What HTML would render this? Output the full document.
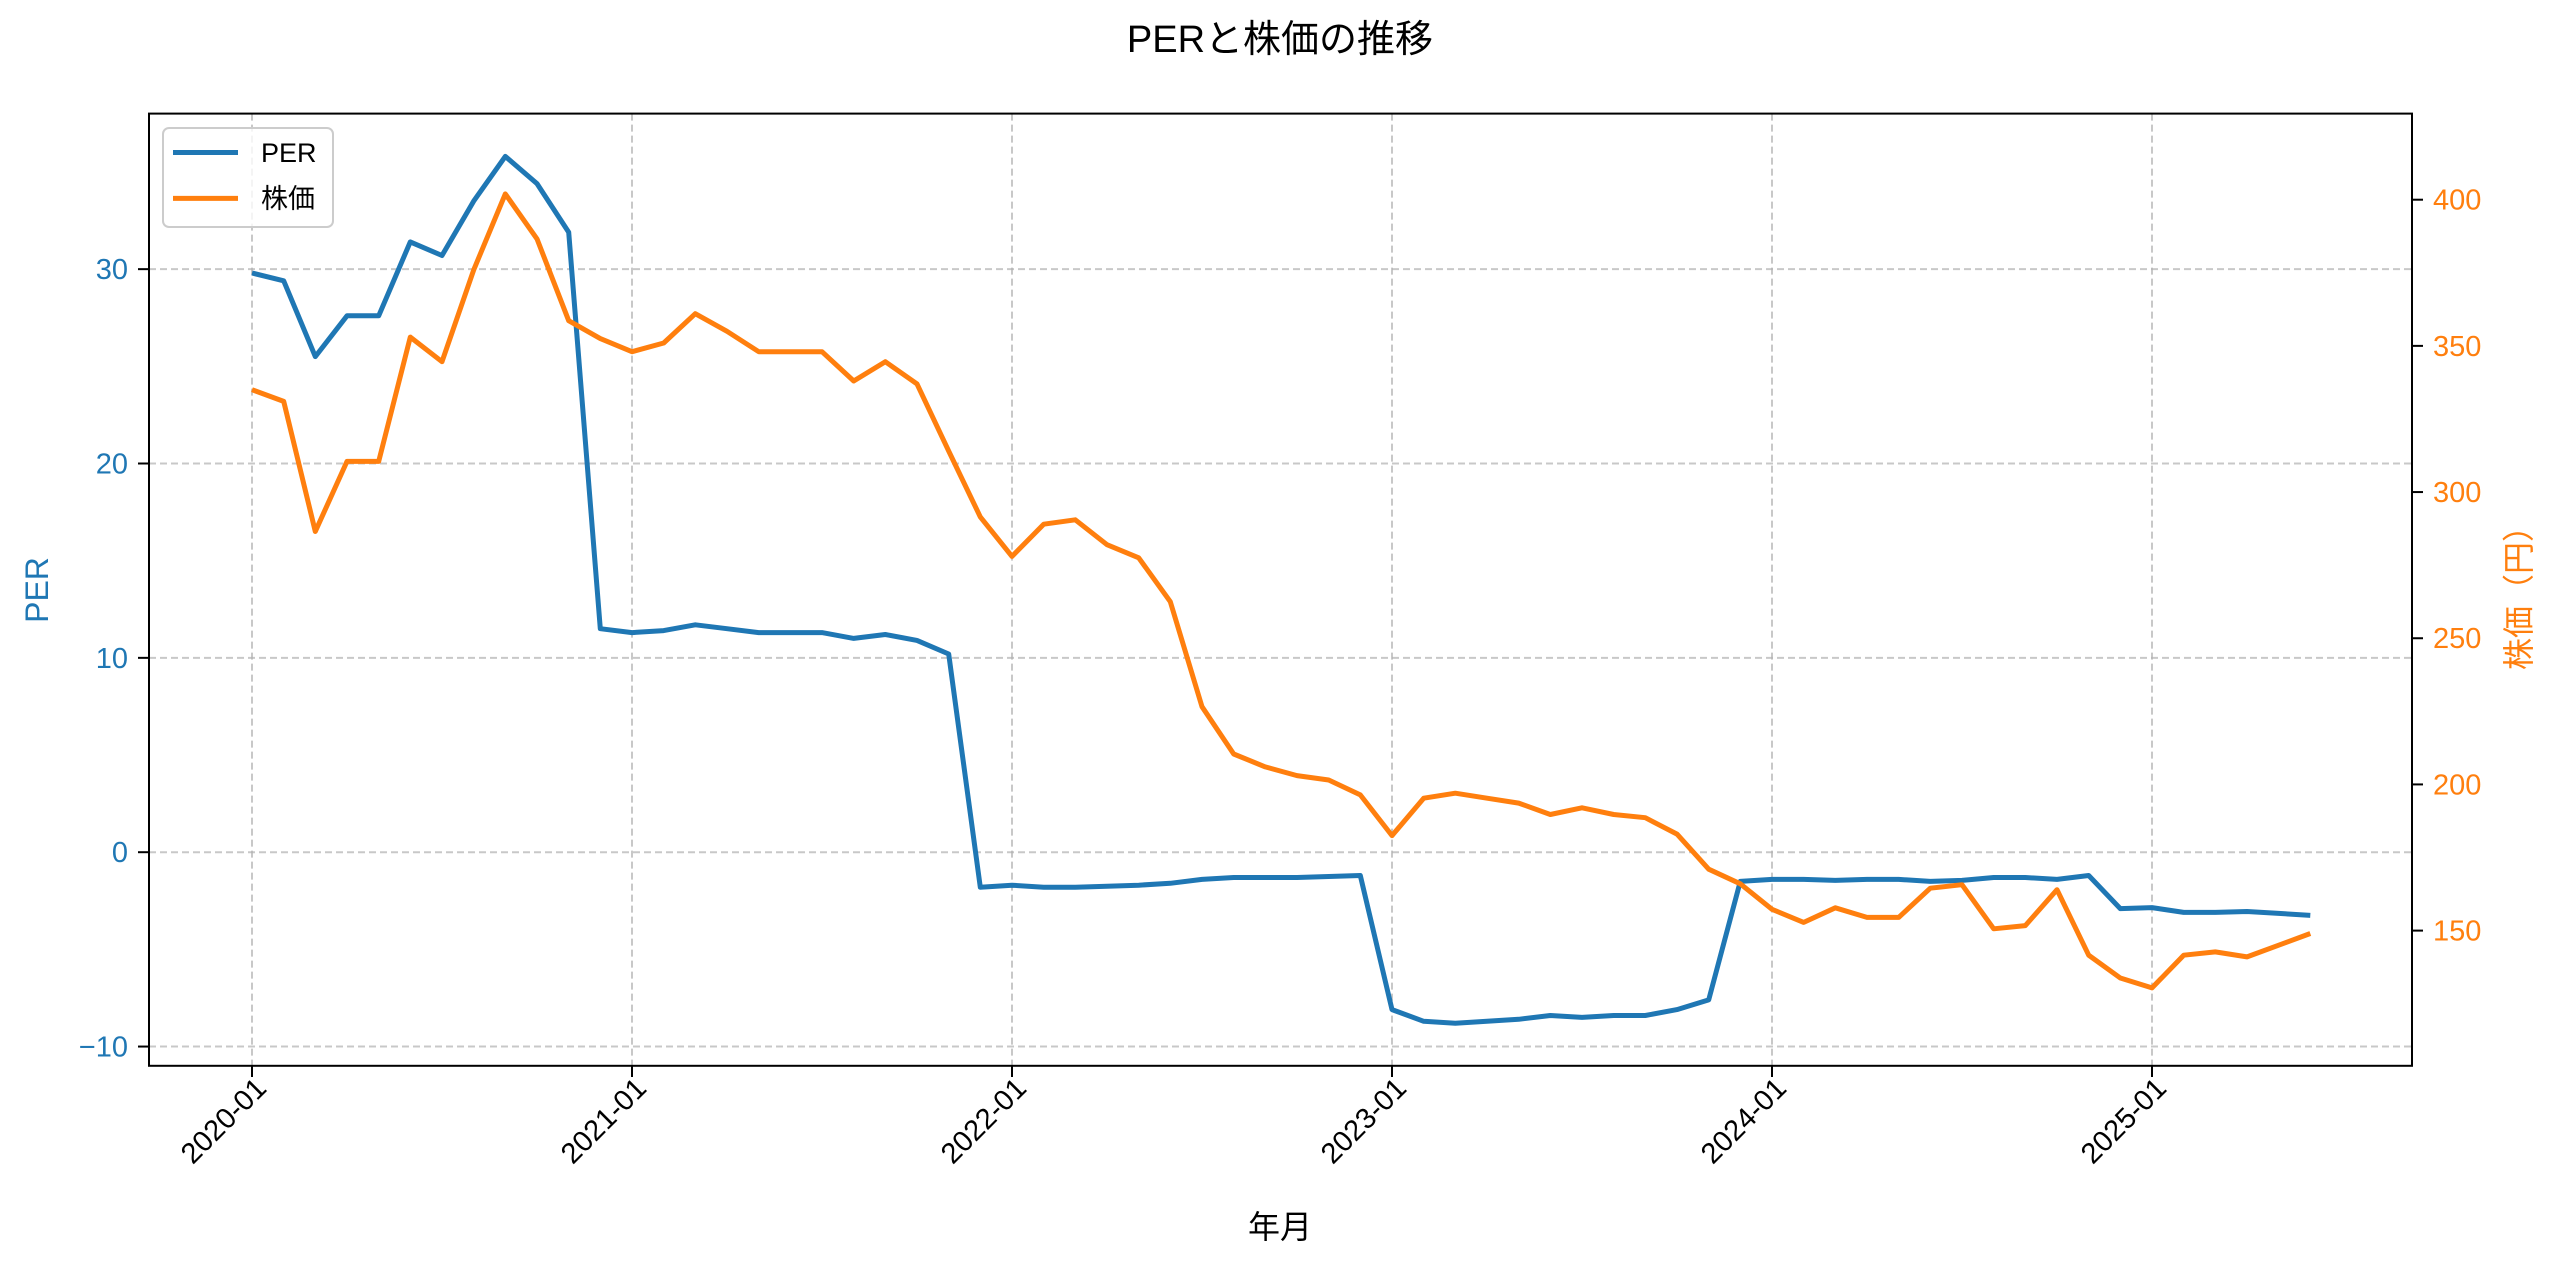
<!DOCTYPE html>
<html><head><meta charset="utf-8"><style>
html,body{margin:0;padding:0;background:#fff}
svg{display:block}
text{font-family:"Liberation Sans","Noto Sans CJK JP",sans-serif}
</style></head><body>
<svg id="chart" width="2560" height="1269" viewBox="0 0 2560 1269" xmlns="http://www.w3.org/2000/svg">
<text x="1280" y="52" font-size="38" text-anchor="middle" fill="#000">PERと株価の推移</text>
<g id="grid"></g>
<g id="series"></g>
<rect x="149" y="113.6" width="2263" height="952.2" fill="none" stroke="#000" stroke-width="2"/>
<g id="axes"></g>
<text x="1280" y="1238" font-size="32" text-anchor="middle" fill="#000">年月</text>
<text transform="translate(48,590) rotate(-90)" font-size="32" text-anchor="middle" fill="#1f77b4">PER</text>
<text transform="translate(2530,590) rotate(-90)" font-size="32" text-anchor="middle" fill="#ff7f0e">株価（円）</text>
<g>
<rect x="163" y="128" width="170" height="99" rx="6" fill="#fff" fill-opacity="0.8" stroke="#ccc" stroke-width="2"/>
<line x1="173" y1="152.5" x2="238" y2="152.5" stroke="#1f77b4" stroke-width="5"/>
<text x="261" y="162" font-size="27" fill="#000">PER</text>
<line x1="173" y1="198.4" x2="238" y2="198.4" stroke="#ff7f0e" stroke-width="5"/>
<text x="261" y="208" font-size="27" fill="#000">株価</text>
</g>
</svg>
<script>
const startYear = 2020;
const perValues = [29.8,29.4,25.5,27.6,27.6,31.4,30.7,33.5,35.8,34.4,31.9,11.5,
11.3,11.4,11.7,11.5,11.3,11.3,11.3,11.0,11.2,10.9,10.2,-1.8,
-1.7,-1.8,-1.8,-1.75,-1.7,-1.6,-1.4,-1.3,-1.3,-1.3,-1.25,-1.2,
-8.1,-8.7,-8.8,-8.7,-8.6,-8.4,-8.5,-8.4,-8.4,-8.1,-7.6,-1.5,
-1.4,-1.4,-1.45,-1.4,-1.4,-1.5,-1.45,-1.3,-1.3,-1.4,-1.2,-2.9,
-2.85,-3.1,-3.1,-3.05,-3.15,-3.25];
const priceValues = [335,331,286.5,310.5,310.5,353,344.6,376,402,386.6,358.6,352.5,
348,351,361,355,348,348,348,338,344.6,337,314,291.5,
278,289,290.5,282,277.5,262.5,226.6,210.4,206,203,201.5,196.4,
182.5,195.3,197,195.3,193.6,189.7,192,189.7,188.6,183,171,166,
157.3,152.8,157.8,154.5,154.5,164.5,165.7,150.6,151.7,164,141.6,133.8,
130.4,141.6,142.7,141,145,149];
const xTickLabels = ["2020-01","2021-01","2022-01","2023-01","2024-01","2025-01"];
const perTicks = [-10,0,10,20,30];
const priceTicks = [150,200,250,300,350,400];

const NS="http://www.w3.org/2000/svg";
const xPos = m => 252 + m*(2152-252)/60;
const yPer = v => 852.2 - v*19.435;
const yPrice = v => 930.6 - (v-150)*2.9236;
function mk(tag, attrs, parent){const e=document.createElementNS(NS,tag);for(const k in attrs)e.setAttribute(k,attrs[k]);parent.appendChild(e);return e;}
const grid=document.getElementById('grid'), axes=document.getElementById('axes'), series=document.getElementById('series');

xTickLabels.forEach((lab,i)=>{
  const x=xPos(i*12);
  const g=mk('line',{x1:x,y1:113.6,x2:x,y2:1065.8,stroke:'#b0b0b0','stroke-width':2,'stroke-dasharray':'7,4','stroke-opacity':0.7},grid);
  
  
  const t=mk('line',{x1:x,y1:1065.8,x2:x,y2:1077,stroke:'#000','stroke-width':2},axes);
  
  
  const tx=mk('text',{transform:`translate(${x+16},1090) rotate(-45)`,'font-size':29,'text-anchor':'end',fill:'#000'},axes);
  tx.textContent=lab;
  
  
});
perTicks.forEach(v=>{
  const y=yPer(v);
  const g=mk('line',{x1:149,y1:y,x2:2412,y2:y,stroke:'#b0b0b0','stroke-width':2,'stroke-dasharray':'7,4','stroke-opacity':0.7},grid);
  
  
  const t=mk('line',{x1:138,y1:y,x2:149,y2:y,stroke:'#000','stroke-width':2},axes);
  
  
  const tx=mk('text',{x:128,y:y+10,'font-size':29,'text-anchor':'end',fill:'#1f77b4'},axes);
  tx.textContent=v<0?'\u2212'+Math.abs(v):String(v);
  
  
});
priceTicks.forEach(v=>{
  const y=yPrice(v);
  const t=mk('line',{x1:2412,y1:y,x2:2423,y2:y,stroke:'#000','stroke-width':2},axes);
  
  
  const tx=mk('text',{x:2433,y:y+10,'font-size':29,'text-anchor':'start',fill:'#ff7f0e'},axes);
  tx.textContent=String(v);
  
  
});
const perPts=perValues.map((v,i)=>xPos(i).toFixed(1)+','+yPer(v).toFixed(1)).join(' ');
const l1=mk('polyline',{points:perPts,fill:'none',stroke:'#1f77b4','stroke-width':5,'stroke-linejoin':'round'},series);


const prPts=priceValues.map((v,i)=>xPos(i).toFixed(1)+','+yPrice(v).toFixed(1)).join(' ');
const l2=mk('polyline',{points:prPts,fill:'none',stroke:'#ff7f0e','stroke-width':5,'stroke-linejoin':'round'},series);


</script>
</body></html>
